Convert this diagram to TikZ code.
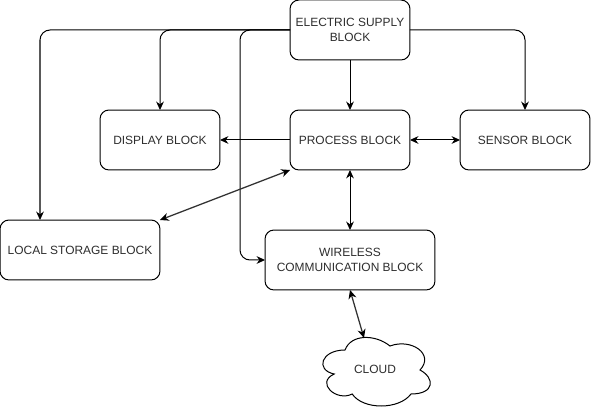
\documentclass[tikz,border=0pt]{standalone}
\usepackage{fontspec}
\setmainfont{Liberation Sans}
\usepackage{xcolor}
\usepackage{tikz}
\usetikzlibrary{arrows.meta, positioning, calc}
\definecolor{myink}{RGB}{45,45,45}
\definecolor{mygray}{RGB}{50,50,50}

\begin{document}
\begin{tikzpicture}[x=0.02cm,y=-0.02cm,font=\fontsize{6.8}{8.5}\selectfont,line width=0.57pt,
  >={Stealth[length=4.8pt,width=4.4pt]},
  block/.style={draw,rounded corners=0.18cm,minimum height=1.2cm,align=center,inner sep=0pt,outer sep=0pt,text=myink},
  link/.style={->,rounded corners=0.2cm},
  both/.style={<->},
  dark/.style={<->,draw=mygray,line width=0.72pt,>={Stealth[length=5pt,width=4.6pt,color=black]}}]
\useasboundingbox (0,0) rectangle (591,411);
\node[block,minimum width=2.4cm] (supply) at (350,30) {ELECTRIC SUPPLY\\BLOCK};
\node[block,minimum width=2.4cm] (process) at (350,140) {PROCESS BLOCK};
\node[block,minimum width=2.4cm] (display) at (160,140) {DISPLAY BLOCK};
\node[block,minimum width=2.6cm] (sensor) at (525,140) {SENSOR BLOCK};
\node[block,minimum width=3.2cm] (storage) at (80,250) {LOCAL STORAGE BLOCK};
\node[block,minimum width=3.4cm] (wireless) at (350,260) {WIRELESS\\COMMUNICATION BLOCK};
\draw (345,350) .. controls (321,350) and (315,370) .. (334.2,374)
  .. controls (315,382.8) and (336.6,402) .. (352.2,394)
  .. controls (363,410) and (399,410) .. (411,394)
  .. controls (435,394) and (435,378) .. (420,370)
  .. controls (435,354) and (411,338) .. (390,346)
  .. controls (375,334) and (351,334) .. (345,350) -- cycle;
\node[text=myink,inner sep=0pt] (cloud) at (375,369) {CLOUD};
\coordinate (cloudtop) at (364,338);
\coordinate (storagetop) at (40,220);
\coordinate (bend) at (240,30);
\draw[link] (supply.west) -| (display.north);
\draw[link] (supply.west) -| (storagetop);
\draw[link] (supply.west) -- (bend) |- (wireless.west);
\draw[link] (supply.east) -| (sensor.north);
\draw[->] (supply.south) -- (process.north);
\draw[->] (process.west) -- (display.east);
\draw[both] (process.east) -- (sensor.west);
\draw[both] (process.south) -- (wireless.north);
\draw[dark] (storage.north east) -- (process.south west);
\draw[dark] (wireless.south) -- (cloudtop);
\end{tikzpicture}
\end{document}
